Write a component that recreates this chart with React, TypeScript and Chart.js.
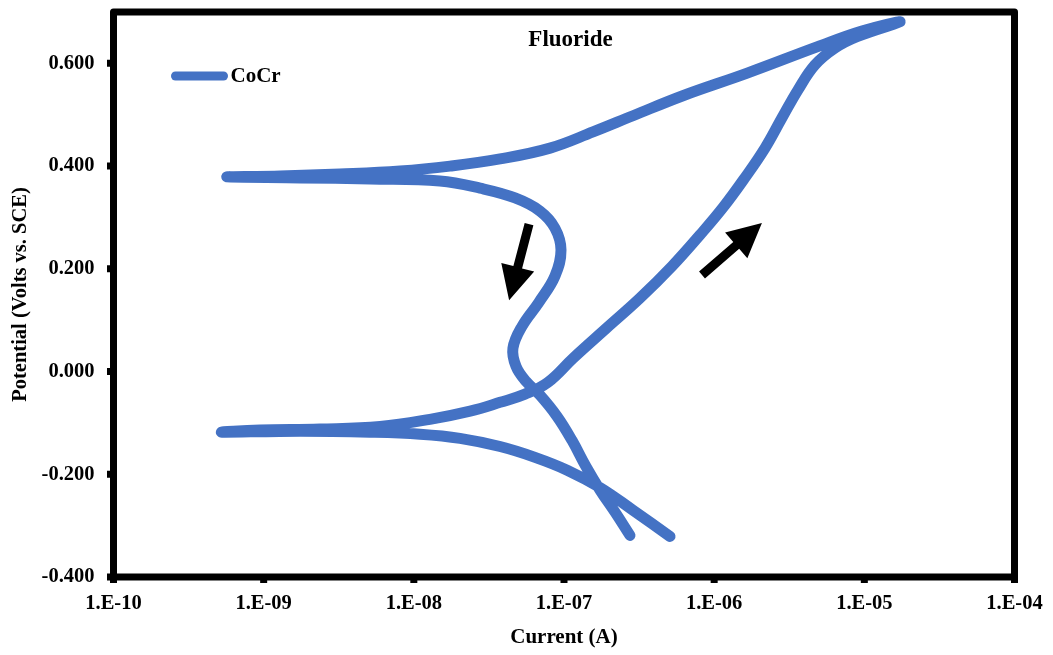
import { useEffect, useRef } from "react";
import { Chart, registerables } from "chart.js";

Chart.register(...registerables);

// Cyclic polarization scan, in scan order (A, V vs. SCE)
const currents = [
  // cathodic branch
  5.08e-7, 2.88e-7, 1.74e-7, 1.05e-7, 6.41e-8, 3.75e-8, 2.03e-8, 1.1e-8, 5.11e-9, 1.75e-9, 5.28e-10,
  // forward anodic scan
  9.46e-10, 2.37e-9, 5.96e-9, 1.28e-8, 2.37e-8, 3.75e-8, 5.5e-8, 7.81e-8, 1.15e-7, 1.91e-7, 3.21e-7,
  5.24e-7, 8.05e-7, 1.15e-6, 1.6e-6, 2.18e-6, 2.83e-6, 3.61e-6, 4.69e-6, 6.38e-6, 8.93e-6, 1.73e-5,
  // reverse scan
  9.64e-6, 4.84e-6, 1.66e-6, 6.19e-7, 2.88e-7, 1.56e-7, 8.07e-8, 3.75e-8, 1.74e-8, 8.1e-9, 3.22e-9,
  1.29e-9, 5.7e-10,
  // return past the repassivation potential
  1.75e-9, 5.11e-9, 1.49e-8, 2.76e-8, 4.72e-8, 6.92e-8, 8.71e-8, 9.55e-8, 8.71e-8, 6.81e-8, 5.25e-8,
  4.57e-8, 4.79e-8, 5.58e-8, 6.92e-8, 8.97e-8, 1.13e-7, 1.4e-7, 1.74e-7, 2.19e-7, 2.75e-7,
];
const potentials = [
  -0.321, -0.27, -0.226, -0.192, -0.167, -0.146, -0.13, -0.122, -0.118, -0.116, -0.118,
  -0.114, -0.112, -0.107, -0.093, -0.077, -0.06, -0.044, -0.021, 0.026, 0.084, 0.143,
  0.205, 0.266, 0.32, 0.377, 0.435, 0.494, 0.548, 0.597, 0.63, 0.652, 0.681,
  0.663, 0.632, 0.581, 0.537, 0.498, 0.4665, 0.435, 0.414, 0.4, 0.3905, 0.3846,
  0.3807, 0.379,
  0.377, 0.375, 0.371, 0.357, 0.338, 0.3125, 0.279, 0.2365, 0.186, 0.135, 0.088,
  0.0454, 0.0103, -0.019, -0.046, -0.087, -0.134, -0.185, -0.231, -0.274, -0.319,
];

const xTickValues = [1e-10, 1e-9, 1e-8, 1e-7, 1e-6, 1e-5, 1e-4];
const yTickValues = [-0.4, -0.2, 0, 0.2, 0.4, 0.6];

// Scan-direction arrows (tail -> tip) in data units
const arrowTailCurrents = [5.85e-8, 8.3e-7];
const arrowTailPotentials = [0.287, 0.188];
const arrowTipCurrents = [4.31e-8, 2.08e-6];
const arrowTipPotentials = [0.139, 0.289];

const seriesName = "CoCr";
const chartTitle = "Fluoride";
const xAxisTitle = "Current (A)";
const yAxisTitle = "Potential (Volts vs. SCE)";

const LINE_BLUE = "#4472C4";
const SERIF = "'Liberation Serif', 'Times New Roman', serif";

function formatCurrent(v: number): string {
  const e = Math.round(Math.log10(v));
  const abs = Math.abs(e).toString().padStart(2, "0");
  return `1.E${e < 0 ? "-" : "+"}${abs}`;
}

function clearScalePadding(scale: any) {
  scale.paddingTop = 0;
  scale.paddingBottom = 0;
  scale.paddingLeft = 0;
  scale.paddingRight = 0;
}

const decorPlugin = {
  id: "decor",
  afterDatasetsDraw(chart: any) {
    const { ctx, chartArea, scales } = chart;
    const xs = scales.x;
    const ys = scales.y;
    ctx.save();

    // arrows
    ctx.fillStyle = "#000";
    for (let i = 0; i < arrowTailCurrents.length; i++) {
      const x0 = xs.getPixelForValue(arrowTailCurrents[i]);
      const y0 = ys.getPixelForValue(arrowTailPotentials[i]);
      const x1 = xs.getPixelForValue(arrowTipCurrents[i]);
      const y1 = ys.getPixelForValue(arrowTipPotentials[i]);
      const len = Math.hypot(x1 - x0, y1 - y0);
      const dx = (x1 - x0) / len;
      const dy = (y1 - y0) / len;
      const nx = -dy;
      const ny = dx;
      const headLen = 34;
      const headHalf = 17;
      const shaftHalf = 4.5;
      const bx = x1 - dx * headLen;
      const by = y1 - dy * headLen;
      ctx.beginPath();
      ctx.moveTo(x0 + nx * shaftHalf, y0 + ny * shaftHalf);
      ctx.lineTo(bx + nx * shaftHalf, by + ny * shaftHalf);
      ctx.lineTo(bx + nx * headHalf, by + ny * headHalf);
      ctx.lineTo(x1, y1);
      ctx.lineTo(bx - nx * headHalf, by - ny * headHalf);
      ctx.lineTo(bx - nx * shaftHalf, by - ny * shaftHalf);
      ctx.lineTo(x0 - nx * shaftHalf, y0 - ny * shaftHalf);
      ctx.closePath();
      ctx.fill();
    }

    // chart title inside plot
    ctx.fillStyle = "#000";
    ctx.font = `bold 23px ${SERIF}`;
    ctx.textAlign = "center";
    ctx.textBaseline = "middle";
    ctx.fillText(chartTitle, chartArea.left + 457, chartArea.top + 28);

    // legend
    const ly = chartArea.top + 64;
    ctx.strokeStyle = LINE_BLUE;
    ctx.lineWidth = 9;
    ctx.lineCap = "round";
    ctx.beginPath();
    ctx.moveTo(chartArea.left + 62, ly);
    ctx.lineTo(chartArea.left + 110, ly);
    ctx.stroke();
    ctx.font = `bold 21px ${SERIF}`;
    ctx.textAlign = "left";
    ctx.fillText(seriesName, chartArea.left + 117, ly + 1);

    // frame
    ctx.strokeStyle = "#000";
    ctx.lineWidth = 7;
    ctx.lineJoin = "round";
    ctx.lineCap = "butt";
    ctx.strokeRect(
      chartArea.left,
      chartArea.top,
      chartArea.right - chartArea.left,
      chartArea.bottom - chartArea.top
    );

    // tick marks
    ctx.beginPath();
    for (const v of yTickValues) {
      const y = ys.getPixelForValue(v);
      ctx.moveTo(chartArea.left, y);
      ctx.lineTo(chartArea.left - 6.5, y);
    }
    for (const v of xTickValues) {
      const x = xs.getPixelForValue(v);
      ctx.moveTo(x, chartArea.bottom);
      ctx.lineTo(x, chartArea.bottom + 6);
    }
    ctx.stroke();
    ctx.restore();
  },
};

export default function App() {
  const canvasRef = useRef<HTMLCanvasElement | null>(null);

  useEffect(() => {
    if (!canvasRef.current) return;
    const points = currents.map((c, i) => ({ x: c, y: potentials[i] }));
    const chart = new Chart(canvasRef.current, {
      type: "scatter",
      data: {
        datasets: [
          {
            label: seriesName,
            data: points,
            showLine: true,
            borderColor: LINE_BLUE,
            backgroundColor: LINE_BLUE,
            borderWidth: 11,
            borderCapStyle: "round",
            borderJoinStyle: "round",
            pointRadius: 0,
            pointHoverRadius: 0,
            tension: 0.4,
          },
        ],
      },
      options: {
        animation: false,
        responsive: false,
        devicePixelRatio: 1,
        events: [],
        layout: { padding: { left: 0, right: 38.5, top: 12, bottom: 0 } },
        plugins: {
          legend: { display: false },
          tooltip: { enabled: false },
          title: { display: false },
        },
        scales: {
          x: {
            type: "logarithmic",
            min: 1e-10,
            max: 1e-4,
            grid: { display: false, drawTicks: false },
            border: { display: false },
            afterBuildTicks: (scale: any) => {
              scale.ticks = xTickValues.map((v) => ({ value: v }));
            },
            afterFit: (scale: any) => {
              scale.height = 78;
              clearScalePadding(scale);
            },
            ticks: {
              autoSkip: false,
              maxRotation: 0,
              padding: 14,
              color: "#000",
              font: { family: SERIF, size: 20.5, weight: "bold" },
              callback: (v: any) => formatCurrent(Number(v)),
            },
            title: {
              display: true,
              text: xAxisTitle,
              color: "#000",
              font: { family: SERIF, size: 21, weight: "bold" },
              padding: { top: 0, bottom: 5 },
            },
          },
          y: {
            type: "linear",
            min: -0.4,
            max: 0.7,
            grid: { display: false, drawTicks: false },
            border: { display: false },
            afterBuildTicks: (scale: any) => {
              scale.ticks = yTickValues.map((v) => ({ value: v }));
            },
            afterFit: (scale: any) => {
              scale.width = 113.5;
              clearScalePadding(scale);
            },
            ticks: {
              padding: 19,
              color: "#000",
              font: { family: SERIF, size: 20.5, weight: "bold" },
              callback: (v: any) => Number(v).toFixed(3),
            },
            title: {
              display: true,
              text: yAxisTitle,
              color: "#000",
              font: { family: SERIF, size: 20.5, weight: "bold" },
              padding: { top: 8, bottom: 0 },
            },
          },
        },
      },
      plugins: [decorPlugin],
    } as any);
    return () => chart.destroy();
  }, []);

  return (
    <div style={{ position: "absolute", left: 0, top: 0, width: 1053, height: 655, background: "#fff" }}>
      <canvas ref={canvasRef} width={1053} height={655} />
    </div>
  );
}
